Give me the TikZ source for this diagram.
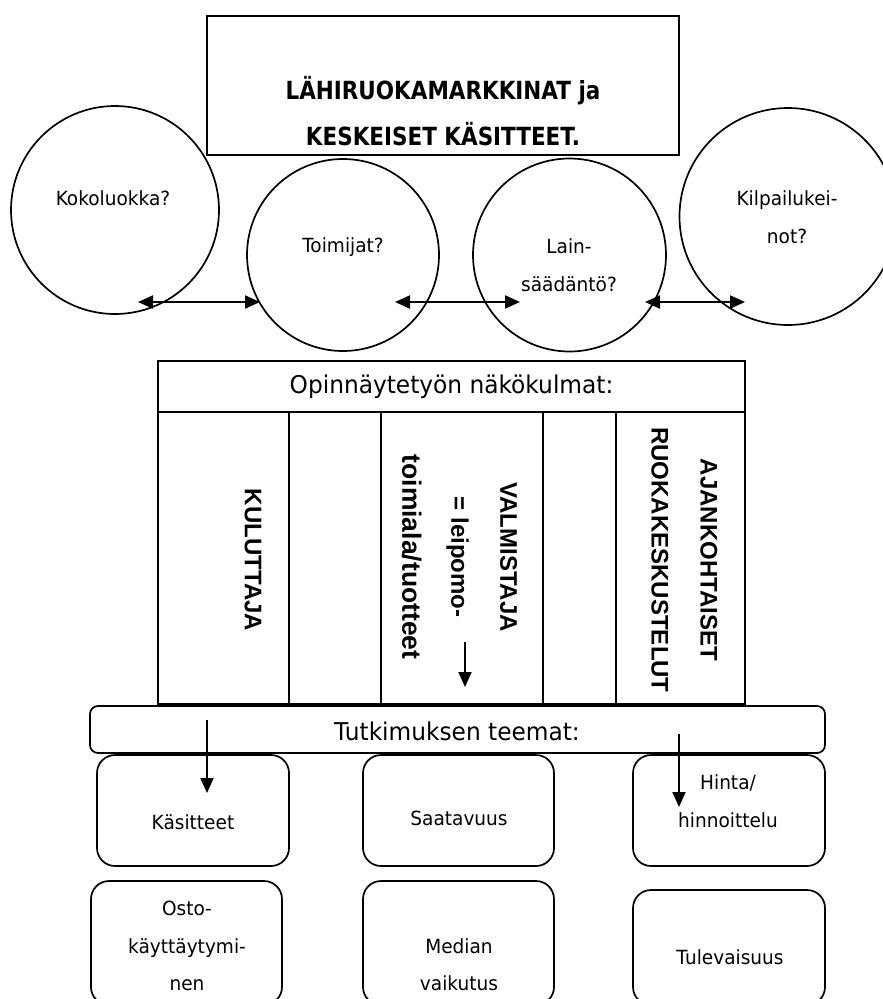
\documentclass[tikz,border=0pt]{standalone}
\usepackage{fontspec}
\setmainfont[FakeStretch=0.95]{DejaVu Sans}
\newfontfamily\headfont[FakeStretch=0.86]{DejaVu Sans}
\newfontfamily\colfont{Liberation Sans}
\usetikzlibrary{arrows.meta,calc}

\begin{document}
\begin{tikzpicture}[x=1pt,y=-1pt,
  line width=1.7pt,
  every node/.style={inner sep=0pt, outer sep=0pt},
  frame/.style={draw, rectangle},
  bubble/.style={draw, circle},
  tile/.style={draw, rectangle, rounded corners=18pt},
  small/.style={font=\fontsize{19.5}{38}\selectfont, align=center},
  big/.style={font=\fontsize{24.5}{30}\selectfont},
  vert/.style={font=\colfont\bfseries\fontsize{24}{49}\selectfont, rotate=-90, align=center},
  link/.style={line width=2pt, -{Triangle[length=15pt,width=13pt]}},
  twoway/.style={line width=2pt, {Triangle[length=15pt,width=13pt]}-{Triangle[length=15pt,width=13pt]}},
]
\useasboundingbox (0,0) rectangle (883,999);
\clip (0,0) rectangle (883,999);

% title
\node[frame, minimum width=472pt, minimum height=139pt] (title) at (443,85.5) {};
\node[font=\headfont\bfseries\fontsize{25}{46}\selectfont, align=center] (titletext) at (443,111)
  {LÄHIRUOKAMARKKINAT ja\\KESKEISET KÄSITTEET.};

% questions in circles
\node[bubble, minimum size=208pt] (koko) at (115,210) {};
\node[bubble, minimum size=192pt] (toim) at (343,255) {};
\node[bubble, minimum size=193pt] (lain) at (569.5,255) {};
\node[bubble, minimum size=217pt] (kil) at (788,216.5) {};
\node[small] (kokot) at (113,198) {Kokoluokka?};
\node[small] (toimt) at (343,247) {Toimijat?};
\node[small] (laint) at (569,265.5) {Lain-\\säädäntö?};
\node[small] (kilt) at (787,217.5) {Kilpailukei-\\not?};

\draw[twoway] ($(koko.center)+(23,92)$) -- ($(toim.center)+(-83,47)$);
\draw[twoway] ($(toim.center)+(52,47)$) -- ($(lain.center)+(-49.5,47)$);
\draw[twoway] ($(lain.center)+(75.5,47)$) -- ($(kil.center)+(-43,85.5)$);

% viewpoints table
\node[frame, minimum width=587pt, minimum height=51pt, big] (head) at (451.5,386.5) {Opinnäytetyön näkökulmat:};
\node[frame, minimum width=131pt, minimum height=292pt] (c1) at (223.5,558) {};
\node[frame, minimum width=92pt, minimum height=292pt] (c2) at (335,558) {};
\node[frame, minimum width=162pt, minimum height=292pt] (c3) at (462,558) {};
\node[frame, minimum width=73pt, minimum height=292pt] (c4) at (579.5,558) {};
\node[frame, minimum width=129pt, minimum height=292pt] (c5) at (680.5,558) {};
\node[vert] (c1t) at (253,560) {KULUTTAJA};
\node[vert] (c3t) at (459.5,557) {VALMISTAJA\\= leipomo-\\{\fontsize{26.5}{49}\selectfont toimiala/tuotteet}};
\node[vert] (c5t) at (684.5,560) {AJANKOHTAISET\\RUOKAKESKUSTELUT};
\draw[link] ($(c3.south)+(3,-62)$) -- ($(c3.south)+(3,-17)$);

% research themes
\node[frame, rounded corners=8pt, minimum width=735pt, minimum height=47pt] (bar) at (457.5,729.5) {};
\node[big] (bart) at (457,731) {Tutkimuksen teemat:};

\node[tile, minimum width=192pt, minimum height=111pt] (kas) at (193,810.5) {};
\node[tile, minimum width=191pt, minimum height=111pt] (saa) at (458.5,810.5) {};
\node[tile, minimum width=192pt, minimum height=111pt] (hin) at (729,810.5) {};
\node[tile, minimum width=191pt, minimum height=124pt] (osto) at (186.5,943) {};
\node[tile, minimum width=191pt, minimum height=124pt] (med) at (458.5,943) {};
\node[tile, minimum width=192pt, minimum height=115pt] (tul) at (729,947.5) {};

\node[small] (kast) at (193,822) {Käsitteet};
\node[small] (saat) at (459,818) {Saatavuus};
\node[small] (hint) at (728,801.5) {Hinta/\\hinnoittelu};
\node[small, font=\fontsize{19.5}{37.5}\selectfont] (ostot) at (187,946) {Osto-\\käyttäytymi-\\nen};
\node[small, font=\fontsize{19.5}{37}\selectfont] (medt) at (459,964.5) {Median\\vaikutus};
\node[small] (tult) at (730,957) {Tulevaisuus};

\draw[link] ($(kas.north)+(14,-35)$) -- ($(kas.north)+(14,38)$);
\draw[link] ($(hin.north)+(-50,-21)$) -- ($(hin.north)+(-50,52)$);
\end{tikzpicture}
\end{document}
